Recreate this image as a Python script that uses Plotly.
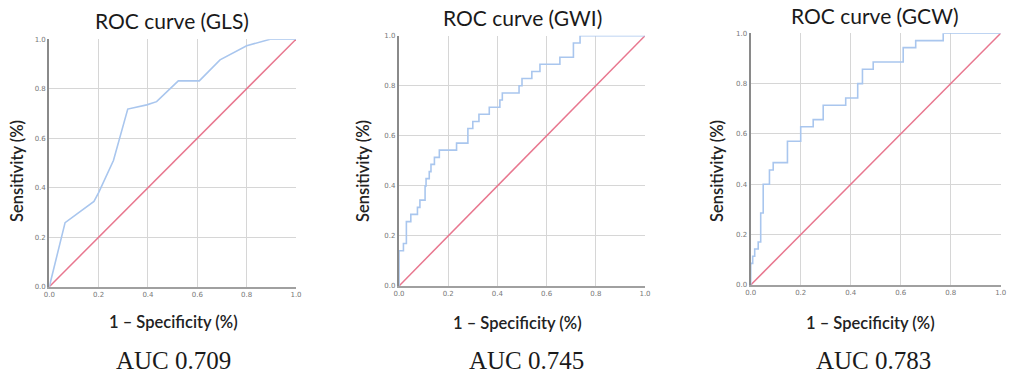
import plotly.graph_objects as go

# ---- data ----
titles = ["ROC curve (GLS)", "ROC curve (GWI)", "ROC curve (GCW)"]
auc_labels = ["AUC 0.709", "AUC 0.745", "AUC 0.783"]

gls_fpr = [0, 0.064, 0.181, 0.20, 0.26, 0.318, 0.395, 0.435, 0.523, 0.608, 0.692, 0.80, 0.895, 1.0]
gls_tpr = [0, 0.259, 0.345, 0.38, 0.51, 0.718, 0.735, 0.748, 0.832, 0.832, 0.917, 0.974, 1.0, 1.0]

gwi_fpr = [0, 0, 0.018, 0.03, 0.048, 0.075, 0.085, 0.106, 0.11, 0.123, 0.13, 0.144, 0.164,
           0.234, 0.28, 0.30, 0.325, 0.367, 0.41, 0.42, 0.488, 0.50, 0.54, 0.573, 0.654,
           0.709, 0.736, 1.0]
gwi_tpr = [0, 0.141, 0.17, 0.257, 0.286, 0.314, 0.343, 0.40, 0.429, 0.457, 0.486, 0.514, 0.543,
           0.571, 0.629, 0.657, 0.686, 0.714, 0.743, 0.771, 0.80, 0.829, 0.857, 0.886, 0.914,
           0.971, 1.0, 1.0]

gcw_fpr = [0, 0, 0.008, 0.016, 0.03, 0.04, 0.05, 0.075, 0.09, 0.147, 0.2, 0.25, 0.29, 0.38,
           0.428, 0.447, 0.49, 0.61, 0.66, 0.77, 1.0]
gcw_tpr = [0, 0.086, 0.114, 0.143, 0.171, 0.286, 0.40, 0.457, 0.486, 0.571, 0.629, 0.657,
           0.714, 0.743, 0.80, 0.857, 0.886, 0.943, 0.971, 1.0, 1.0]

ref_line = [0, 1]
ticks = [0, 0.2, 0.4, 0.6, 0.8, 1.0]

curves = [(gls_fpr, gls_tpr, "linear"), (gwi_fpr, gwi_tpr, "hv"), (gcw_fpr, gcw_tpr, "hv")]

# ---- layout geometry (pixels) ----
W, H = 1010, 385
boxes = [  # left, right, top, bottom in pixels
    (49.3, 296.0, 39.3, 286.7),
    (399.0, 645.0, 35.7, 286.0),
    (750.7, 1000.7, 33.3, 285.0),
]
title_pos = [(172, 20), (522, 17), (875, 15)]
ytitle_pos = [(17, 171), (363, 171), (717, 171)]
xtitle_pos = [(173, 322), (517, 323), (870, 323)]
auc_pos = [(173, 360), (526, 360), (873, 360)]

BLUE = "#a9c6ee"
RED = "#e8778f"

fig = go.Figure()
layout = dict(
    width=W, height=H,
    margin=dict(l=0, r=0, t=0, b=0, autoexpand=False),
    paper_bgcolor="white", plot_bgcolor="white",
    showlegend=False,
)

annotations = []
for i, (fx, ty, shape) in enumerate(curves):
    n = "" if i == 0 else str(i + 1)
    xa, ya = "x" + n, "y" + n
    fig.add_trace(go.Scatter(x=ref_line, y=ref_line, mode="lines",
                             line=dict(color=RED, width=1.5), xaxis=xa, yaxis=ya,
                             hoverinfo="skip"))
    fig.add_trace(go.Scatter(x=fx, y=ty, mode="lines", line_shape=shape,
                             line=dict(color=BLUE, width=1.6), xaxis=xa, yaxis=ya))
    l, r, t, b = boxes[i]
    common = dict(range=[0, 1], tickvals=ticks, tickformat=".1f",
                  showgrid=True, gridcolor="#d6d6d6", gridwidth=1.2,
                  zeroline=False, ticks="", ticklabeloverflow="allow",
                  tickfont=dict(family="DejaVu Sans", size=7, color="#777777"))
    layout["xaxis" + n] = dict(common, domain=[l / W, r / W], anchor=ya,
                               showline=True, linecolor="#a0a0a0", linewidth=1.5)
    layout["yaxis" + n] = dict(common, domain=[1 - b / H, 1 - t / H], anchor=xa,
                               showline=True, linecolor="#8a8a8a", linewidth=2.2)
    tx, tyy = title_pos[i]
    annotations.append(dict(text=titles[i], x=tx / W, y=1 - tyy / H, xref="paper", yref="paper",
                            showarrow=False, xanchor="center", yanchor="middle",
                            font=dict(family="Lato", size=21, color="#1a1a1a")))
    yx, yy = ytitle_pos[i]
    annotations.append(dict(text="Sensitivity (%)", x=yx / W, y=1 - yy / H, xref="paper",
                            yref="paper", showarrow=False, textangle=-90,
                            xanchor="center", yanchor="middle",
                            font=dict(family="Lato", size=16.5, color="#222222", weight=600)))
    xx, xy = xtitle_pos[i]
    annotations.append(dict(text="1 – Specificity (%)", x=xx / W, y=1 - xy / H, xref="paper",
                            yref="paper", showarrow=False, xanchor="center", yanchor="middle",
                            font=dict(family="Lato", size=16.5, color="#222222", weight=600)))
    ax, ay = auc_pos[i]
    annotations.append(dict(text=auc_labels[i], x=ax / W, y=1 - ay / H, xref="paper",
                            yref="paper", showarrow=False, xanchor="center", yanchor="middle",
                            font=dict(family="Liberation Serif", size=25, color="#1a1a1a")))

layout["annotations"] = annotations
fig.update_layout(**layout)
fig.write_html("out.html",
               config={"displayModeBar": False},
               post_script="document.body.style.margin='0px';document.body.style.overflow='hidden';")
